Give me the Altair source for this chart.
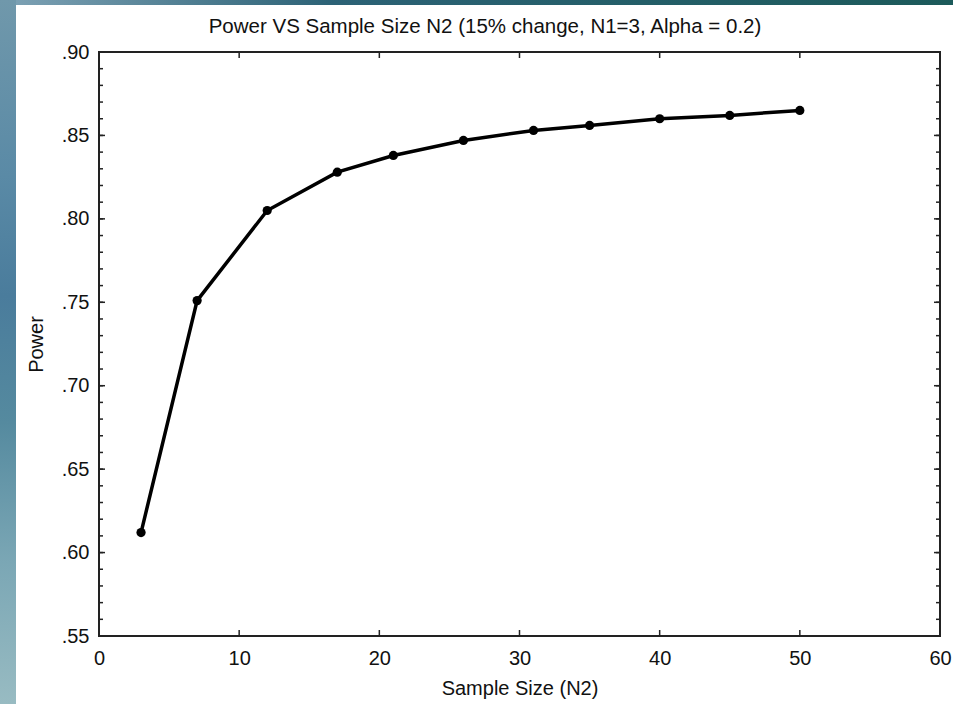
import altair as alt
import pandas as pd

# ---- data ----
sample_size = [3, 7, 12, 17, 21, 26, 31, 35, 40, 45, 50]
power = [0.612, 0.751, 0.805, 0.828, 0.838, 0.847, 0.853, 0.856, 0.860, 0.862, 0.865]

x_ticks = [0, 10, 20, 30, 40, 50, 60]
y_major = [0.55, 0.60, 0.65, 0.70, 0.75, 0.80, 0.85, 0.90]
y_minor = [round(0.55 + 0.01 * i, 2) for i in range(36)]

title_text = "Power VS Sample Size N2 (15% change, N1=3, Alpha = 0.2)"
x_title = "Sample Size (N2)"
y_title = "Power"

W, H = 841, 584
FONT = "Liberation Sans"

df = pd.DataFrame({"n": sample_size, "power": power})

xs = alt.Scale(domain=[0, 60], nice=False, zero=False)
ys = alt.Scale(domain=[0.55, 0.90], nice=False, zero=False)

x_axis = alt.Axis(values=x_ticks, labelFontSize=20, labelFont=FONT, labelColor="#111",
                  labelFlush=False,
                  ticks=False, tickSize=0, domain=False, grid=False, labelPadding=12,
                  title=x_title, titleFont=FONT, titleFontSize=20, titleFontWeight="normal",
                  titleColor="#111", titleX=W / 2, titleY=58, titleBaseline="alphabetic",
                  titleAlign="center")
y_axis = alt.Axis(values=y_major, labelFontSize=20, labelFont=FONT, labelColor="#111",
                  labelExpr="substring(format(datum.value, '.2f'), 1)",
                  labelFlush=False,
                  ticks=False, tickSize=0, domain=False, grid=False, labelPadding=10,
                  title=y_title, titleFont=FONT, titleFontSize=20, titleFontWeight="normal",
                  titleColor="#111", titleAngle=270, titleX=-57, titleY=H / 2,
                  titleBaseline="alphabetic", titleAlign="center")

one = alt.Data(values=[{"k": 1}])

# decorative background strips (outside the white panel)
top_strip = alt.Chart(one).mark_rect(
    color=alt.LinearGradient(gradient="linear", x1=0, x2=1, y1=0, y2=0,
                             stops=[alt.GradientStop(color="#7fa3b6", offset=0),
                                    alt.GradientStop(color="#2c6276", offset=0.35),
                                    alt.GradientStop(color="#1c5a5a", offset=1)])
).encode(x=alt.value(-99), x2=alt.value(854), y=alt.value(-52), y2=alt.value(-47))

left_strip = alt.Chart(one).mark_rect(
    color=alt.LinearGradient(gradient="linear", x1=0, x2=0, y1=0, y2=1,
                             stops=[alt.GradientStop(color="#7098ab", offset=0),
                                    alt.GradientStop(color="#5a8aa6", offset=0.25),
                                    alt.GradientStop(color="#4a7c9c", offset=0.42),
                                    alt.GradientStop(color="#558a9f", offset=0.6),
                                    alt.GradientStop(color="#7ba7b5", offset=0.8),
                                    alt.GradientStop(color="#98bbc2", offset=1)])
).encode(x=alt.value(-99), x2=alt.value(-83), y=alt.value(-52), y2=alt.value(652))

title = alt.Chart(alt.Data(values=[{"t": title_text}])).mark_text(
    font=FONT, fontSize=20.5, color="#111", align="center", baseline="alphabetic"
).encode(text="t:N", x=alt.value(386), y=alt.value(-19))

# inward tick marks
ymaj_df = pd.DataFrame({"v": y_major})
ymin_df = pd.DataFrame({"v": y_minor})
xt_df = pd.DataFrame({"v": x_ticks[1:-1]})

tick_style = dict(color="#222", strokeWidth=1.5)
ticks_left_major = alt.Chart(ymaj_df).mark_rule(**tick_style).encode(
    y=alt.Y("v:Q", scale=ys, axis=y_axis), x=alt.value(0), x2=alt.value(6))
ticks_left_minor = alt.Chart(ymin_df).mark_rule(**tick_style).encode(
    y=alt.Y("v:Q", scale=ys), x=alt.value(0), x2=alt.value(4))
ticks_right_major = alt.Chart(ymaj_df).mark_rule(**tick_style).encode(
    y=alt.Y("v:Q", scale=ys), x=alt.value(W), x2=alt.value(W - 6))
ticks_right_minor = alt.Chart(ymin_df).mark_rule(**tick_style).encode(
    y=alt.Y("v:Q", scale=ys), x=alt.value(W), x2=alt.value(W - 4))
ticks_bottom = alt.Chart(xt_df).mark_rule(**tick_style).encode(
    x=alt.X("v:Q", scale=xs, axis=x_axis), y=alt.value(H), y2=alt.value(H - 6))
ticks_top = alt.Chart(xt_df).mark_rule(**tick_style).encode(
    x=alt.X("v:Q", scale=xs), y=alt.value(0), y2=alt.value(6))

line = alt.Chart(df).mark_line(color="black", strokeWidth=3.5).encode(
    x=alt.X("n:Q", scale=xs), y=alt.Y("power:Q", scale=ys))
pts = alt.Chart(df).mark_circle(color="black", size=85, opacity=1).encode(
    x=alt.X("n:Q", scale=xs), y=alt.Y("power:Q", scale=ys))

chart = alt.layer(
    top_strip, left_strip, title,
    ticks_left_major, ticks_left_minor, ticks_right_major, ticks_right_minor,
    ticks_bottom, ticks_top, line, pts
).properties(
    width=W, height=H,
    autosize=alt.AutoSizeParams(type="none"),
    padding={"left": 99, "top": 52, "right": 13, "bottom": 68},
    background="white",
).configure_view(stroke="#222", strokeWidth=2)

chart.save("out.html", embed_options={"renderer": "svg", "actions": False})
